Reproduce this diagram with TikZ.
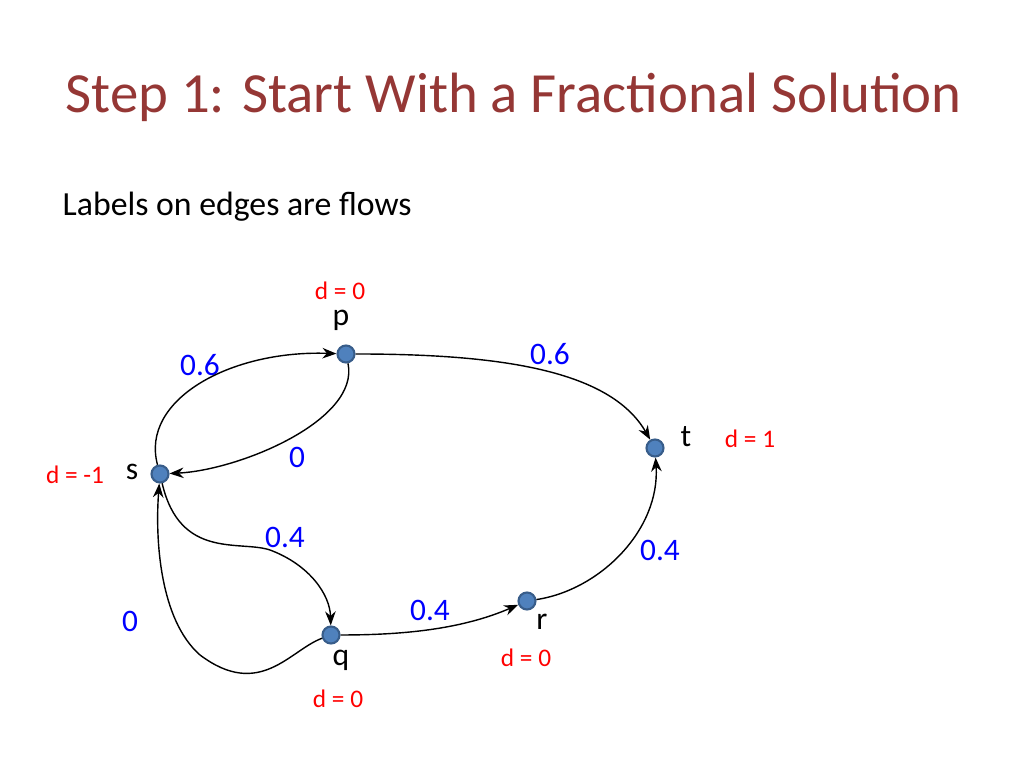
\documentclass[tikz,border=0pt]{standalone}
\usepackage{fontspec}
\setmainfont{Carlito}
\usetikzlibrary{arrows.meta}
\definecolor{ttl}{HTML}{953735}
\definecolor{nfill}{HTML}{4F81BD}
\definecolor{nline}{HTML}{385D8A}
\tikzset{
 vert/.style={circle,fill=nfill,draw=nline,line width=0.6pt,minimum size=0.17cm,inner sep=0pt},
 flow/.style={font=\fontsize{8.9}{10}\selectfont,text=blue},
 dlab/.style={font=\fontsize{7.2}{8}\selectfont,text=red},
 nlab/.style={font=\fontsize{9}{10}\selectfont},
 edge/.style={-{Stealth[length=4pt,width=3pt]},line width=0.4pt}
}
\begin{document}
\begin{tikzpicture}[x=0.01cm,y=-0.01cm]
\useasboundingbox (0,0) rectangle (1024,768);
\node[anchor=west,inner sep=0pt,text=ttl,font=\fontsize{16.15}{19}\selectfont] (title) at (65,97) {Step 1: Start With a Fractional Solution};
\node[anchor=west,inner sep=0pt,font=\fontsize{9.6}{11}\selectfont] (sub) at (62,207) {Labels on edges are flows};
\node[vert] (p) at (346,354) {};
\node[vert] (t) at (655,448) {};
\node[vert] (s) at (160,474) {};
\node[vert] (q) at (331,635) {};
\node[vert] (r) at (527,601) {};
\node[nlab] (pl) at (341,320) {p};
\node[nlab] (tl) at (686,437) {t};
\node[nlab] (sl) at (132,472) {s};
\node[nlab] (ql) at (341,660) {q};
\node[nlab] (rl) at (542,622) {r};
\node[dlab] (dp) at (340,291) {d = 0};
\node[dlab] (dt) at (750,439) {d = 1};
\node[dlab] (ds) at (75,475) {d = -1};
\node[dlab] (dq) at (338,699) {d = 0};
\node[dlab] (dr) at (526,658) {d = 0};
\node[flow] (f1) at (200,365) {0.6};
\node[flow] (f2) at (297,457) {0};
\node[flow] (f3) at (550,354) {0.6};
\node[flow] (f4) at (285,537) {0.4};
\node[flow] (f5) at (130,621) {0};
\node[flow] (f6) at (430,610) {0.4};
\node[flow] (f7) at (660,550) {0.4};
\draw[edge] (s) .. controls (140,400) and (230,350) .. (p);
\draw[edge] (p) .. controls (360,420) and (240,470) .. (s);
\draw[edge] (p) .. controls (500,354) and (610,370) .. (t);
\draw[edge] (s) .. controls (180,560) and (240,540) .. (270,550) .. controls (310,565) and (330,595) .. (q);
\draw[edge] (q) .. controls (290,650) and (260,700) .. (200,655) .. controls (160,620) and (155,540) .. (s);
\draw[edge] (q) .. controls (400,635) and (460,630) .. (r);
\draw[edge] (r) .. controls (600,590) and (660,530) .. (t);
\end{tikzpicture}
\end{document}
